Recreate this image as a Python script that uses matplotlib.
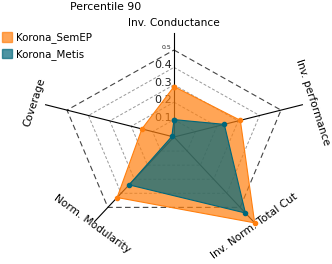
import numpy as np
import matplotlib
matplotlib.use("Agg")
from matplotlib import pyplot as plt
from matplotlib.patches import Patch

labels = ["Inv. Conductance", "Inv. performance", "Inv. Norm. Total Cut",
          "Norm. Modularity", "Coverage"]
semep = [0.29, 0.31, 0.61, 0.43, 0.15]
metis = [0.10, 0.235, 0.54, 0.34, 0.01]
levels = [0.1, 0.2, 0.3, 0.4, 0.5]
level_labels = ["0.1", "0.2", "0.3", "0.4", "0.5"]

# angles in degrees, clockwise from the top
angles = np.radians([90, 18, -54, -126, 162])

def xy(vals):
    vals = np.asarray(vals)
    return vals * np.cos(angles), vals * np.sin(angles)

fig = plt.figure(figsize=(3.32, 2.64), dpi=100)
ax = fig.add_axes([0, 0, 1, 1])
ax.set_xlim(-0.7733, 0.7022)
ax.set_ylim(-0.7299, 0.7874)
ax.axis("off")

# grid pentagons
for lv in levels:
    x, y = xy([lv] * 5)
    x = np.append(x, x[0])
    y = np.append(y, y[0])
    if lv == 0.5:
        ax.plot(x, y, color="#444444", lw=0.8, ls=(0, (5, 3)), zorder=1)
    else:
        ax.plot(x, y, color="#999999", lw=0.7, ls=(0, (3, 2)), zorder=1)

# spokes
for a in angles:
    ax.plot([0, 0.6 * np.cos(a)], [0, 0.6 * np.sin(a)], color="black", lw=0.8, zorder=1)

# radial tick labels
for lv, t in zip(levels, level_labels):
    fs = 4.5 if lv == 0.5 else 8
    ax.text(-0.01, lv + 0.012, t, ha="right", va="center", fontsize=fs, color="#222222", zorder=2)

# data
for vals, col in [(semep, "#ff7f0e"), (metis, "#00677b")]:
    x, y = xy(vals)
    x = np.append(x, x[0])
    y = np.append(y, y[0])
    ax.fill(x, y, color=col, alpha=0.7, lw=0, zorder=3)
    ax.plot(x, y, color=col, lw=0.8, marker="o", ms=3, zorder=4)

# axis labels
label_r = [0.655, 0.65, 0.63, 0.62, 0.65]
rots = [0, -72, 36, -36, 72]
for lab, a, r, rot in zip(labels, angles, label_r, rots):
    ax.text(r * np.cos(a) - (0.015 if rot == 36 else 0), r * np.sin(a), lab,
            ha="center", va="center", rotation=rot, rotation_mode="anchor", fontsize=7.6)

fig.text(0.319, 0.975, "Percentile 90", ha="center", va="center", fontsize=7.8)

handles = [Patch(color="#ff7f0e", alpha=0.7), Patch(color="#00677b", alpha=0.7)]
fig.legend(handles, ["Korona_SemEP", "Korona_Metis"], loc="upper left",
           bbox_to_anchor=(0.0, 0.885), frameon=False, fontsize=7.4,
           handlelength=1.0, handleheight=1.0, handletextpad=0.4,
           borderaxespad=0, borderpad=0.2, labelspacing=0.5)

fig.savefig("out.png", dpi=100)
